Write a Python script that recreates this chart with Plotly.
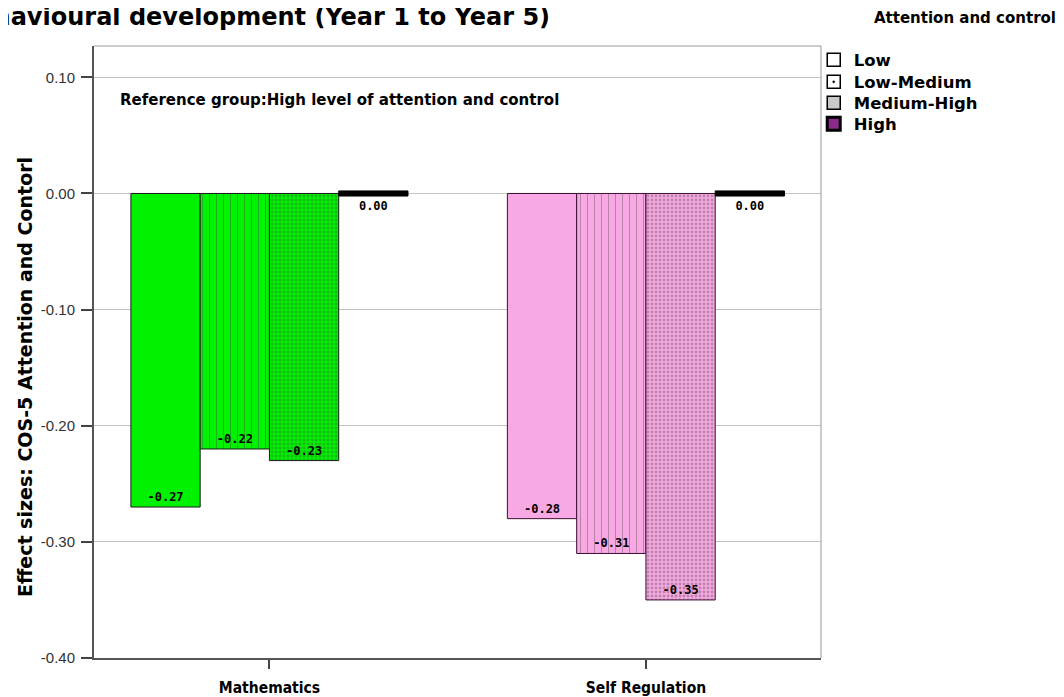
import plotly.graph_objects as go

# ---- data ----
categories = ["Mathematics", "Self Regulation"]
levels = ["Low", "Low-Medium", "Medium-High", "High"]
low = [-0.27, -0.28]
low_medium = [-0.22, -0.31]
medium_high = [-0.23, -0.35]
high = [0.00, 0.00]
y_ticks = [0.10, 0.00, -0.10, -0.20, -0.30, -0.40]

# ---- styling ----
cat_colors = ["#00F200", "#F8A8E2"]
cat_lines = ["#1a1a1a", "#3a1030"]
cat_fg = ["#004a00", "#5a1050"]
ZERO_T = 0.0044  # drawn thickness of a zero effect bar
BOLD = "DejaVu Sans"

fig = go.Figure()

series = [low, low_medium, medium_high, high]
patterns = [
    None,
    dict(shape="|", size=7, solidity=0.13, fgcolor=cat_fg, bgcolor=cat_colors, fgopacity=0.4),
    dict(shape=".", size=4, solidity=0.4, fgcolor=cat_fg, bgcolor=cat_colors, fgopacity=0.35),
    None,
]

for name, vals, pat in zip(levels, series, patterns):
    is_zero = [v == 0 for v in vals]
    ys = [-ZERO_T if z else v for v, z in zip(vals, is_zero)]
    bases = [v + ZERO_T / 2 if z else 0 for v, z in zip(vals, is_zero)]
    marker = dict(
        color=["#000000"] * len(vals) if name == "High" else cat_colors,
        line=dict(color=["#000000"] * len(vals) if name == "High" else cat_lines, width=1),
    )
    if pat:
        marker["pattern"] = pat
    fig.add_trace(go.Bar(
        x=categories, y=ys, base=bases, name=name, marker=marker,
        text=[f"{v:.2f}" for v in vals],
        textposition=["outside" if z else "inside" for z in is_zero],
        insidetextanchor="end",
        textfont=dict(family="DejaVu Sans Mono", size=12, color="#000000", weight="bold"),
        cliponaxis=False,
        showlegend=False,
    ))

# legend entries (white symbols as in the original legend), one legend per row
legend_styles = [
    dict(symbol="square", color="#FFFFFF", line=dict(color="#000", width=1.5)),
    dict(symbol="square-dot", color="#FFFFFF", line=dict(color="#000", width=1.5)),
    dict(symbol="square", color="#C8C8C8", line=dict(color="#000", width=1.5)),
    dict(symbol="square", color="#8A2A8A", line=dict(color="#000", width=3)),
]
legend_ids = ["legend", "legend2", "legend3", "legend4"]
legend_y = [0.977, 0.941, 0.907, 0.8725]
for name, st, lid in zip(levels, legend_styles, legend_ids):
    fig.add_trace(go.Scatter(
        x=[None], y=[None], mode="markers", name=name, legend=lid,
        marker=dict(size=13, **st), showlegend=True,
    ))

legend_common = dict(
    x=0.99, xanchor="left", yanchor="middle",
    font=dict(family=BOLD, size=16.5, color="#000", weight="bold"),
    itemwidth=30, bgcolor="rgba(0,0,0,0)", borderwidth=0,
)
legend_layout = {lid: dict(y=ly, **legend_common) for lid, ly in zip(legend_ids, legend_y)}

fig.update_layout(
    width=1056, height=689,
    margin=dict(l=86, r=243, t=38, b=39, autoexpand=False),
    paper_bgcolor="white", plot_bgcolor="white",
    barmode="group", bargap=0.264, bargroupgap=0,
    font=dict(family="Liberation Sans, Arial, sans-serif", color="#000"),
    xaxis=dict(
        type="category", categoryorder="array", categoryarray=categories,
        range=[-0.466, 1.465], automargin=False,
        showgrid=False, showline=True, linecolor="#555", linewidth=2,
        ticks="outside", ticklen=9, tickwidth=2, tickcolor="#444",
        ticklabelstandoff=5,
        tickfont=dict(family="Liberation Sans Narrow, DejaVu Sans Condensed, Liberation Sans",
                      size=15.5, color="#000", weight="bold"),
    ),
    yaxis=dict(
        range=[-0.40, 0.127], tickvals=y_ticks, ticktext=[f"{v:.2f}" for v in y_ticks],
        automargin=False,
        showgrid=True, gridcolor="#C4C4C4", gridwidth=1, zeroline=False,
        showline=True, linecolor="#555", linewidth=2,
        ticks="outside", ticklen=11, tickwidth=1.5, tickcolor="#444",
        ticklabelstandoff=3,
        tickfont=dict(family="Liberation Sans", size=15, color="#333"),
    ),
    shapes=[
        dict(type="line", xref="paper", yref="paper", x0=0, x1=1, y0=1, y1=1,
             line=dict(color="#999", width=1)),
        dict(type="line", xref="paper", yref="paper", x0=1, x1=1, y0=0, y1=1,
             line=dict(color="#999", width=1)),
    ],
    annotations=[
        dict(text="Behavioural development (Year 1 to Year 5)", xref="paper", yref="paper",
             x=0.630, y=1.047, xanchor="right", yanchor="middle", showarrow=False,
             font=dict(family=BOLD, size=24, color="#000", weight="bold")),
        dict(text="Attention and control", xref="paper", yref="paper",
             x=1.1980, y=1.046, xanchor="center", yanchor="middle", showarrow=False,
             font=dict(family=BOLD, size=15, color="#000", weight="bold")),
        dict(text="Reference group:High level of attention and control", xref="paper", yref="paper",
             x=0.033, y=0.912, xanchor="left", yanchor="middle", showarrow=False,
             font=dict(family=BOLD, size=15, color="#000", weight="bold")),
        dict(text="Effect sizes: COS-5 Attention and Contorl", xref="paper", yref="paper",
             x=-0.0949, y=0.459, xanchor="center", yanchor="middle", showarrow=False,
             textangle=-90,
             font=dict(family=BOLD, size=19, color="#000", weight="bold")),
    ],
    **legend_layout,
)

fig.write_html("out.html")
